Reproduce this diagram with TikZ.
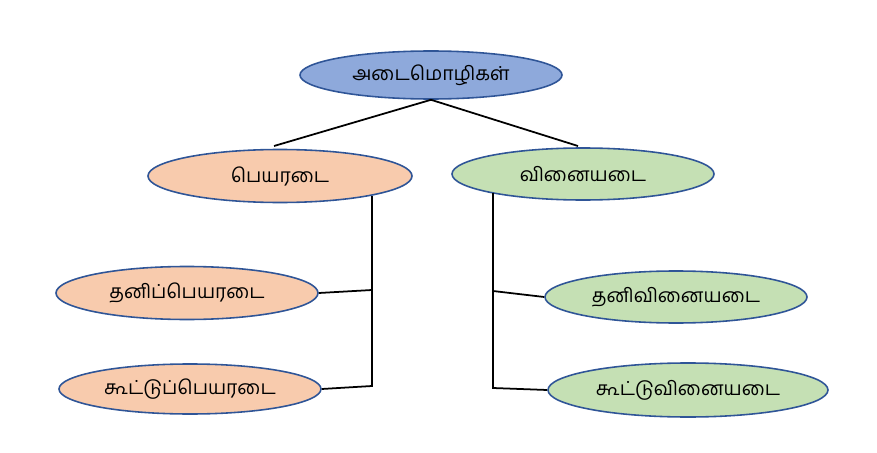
\documentclass[tikz,border=0pt]{standalone}
\usepackage{fontspec}
\newfontfamily\tamil[Script=Tamil]{Hind Madurai}
\usetikzlibrary{shapes.geometric}
\definecolor{bord}{HTML}{2F5597}
\definecolor{blu}{HTML}{8EA9DB}
\definecolor{ora}{HTML}{F8CBAD}
\definecolor{grn}{HTML}{C5E0B4}
\begin{document}
\begin{tikzpicture}[x=0.02cm,y=-0.02cm,
  el/.style={ellipse,draw=bord,line width=0.9pt,inner sep=0pt,font=\tamil\fontsize{11}{13}\selectfont},
  ln/.style={line width=1pt,black}]
\useasboundingbox (0,0) rectangle (877,453);
\node[el,fill=blu,minimum width=262*0.02cm,minimum height=48*0.02cm] (top) at (431,75) {அடைமொழிகள்};
\node[el,fill=ora,minimum width=264*0.02cm,minimum height=53*0.02cm] (p) at (280,176) {பெயரடை};
\node[el,fill=grn,minimum width=262*0.02cm,minimum height=52*0.02cm] (v) at (583,174) {வினையடை};
\node[el,fill=ora,minimum width=262*0.02cm,minimum height=53*0.02cm] (p1) at (187,293) {தனிப்பெயரடை};
\node[el,fill=ora,minimum width=262*0.02cm,minimum height=50*0.02cm] (p2) at (190,389) {கூட்டுப்பெயரடை};
\node[el,fill=grn,minimum width=262*0.02cm,minimum height=52*0.02cm] (v1) at (676,297) {தனிவினையடை};
\node[el,fill=grn,minimum width=280*0.02cm,minimum height=54*0.02cm] (v2) at (688,390) {கூட்டுவினையடை};
\coordinate (pt) at (274,146);
\coordinate (vt) at (578,146);
\coordinate (lb) at (372,196);
\coordinate (rb) at (493,193);
\draw[ln] (top.south) -- (pt);
\draw[ln] (top.south) -- (vt);
\draw[ln] (lb) -- (372,386) -- (p2.east);
\draw[ln] (p1.east) -- (372,290);
\draw[ln] (rb) -- (493,388) -- (v2.west);
\draw[ln] (493,291) -- (v1.west);
\end{tikzpicture}
\end{document}
